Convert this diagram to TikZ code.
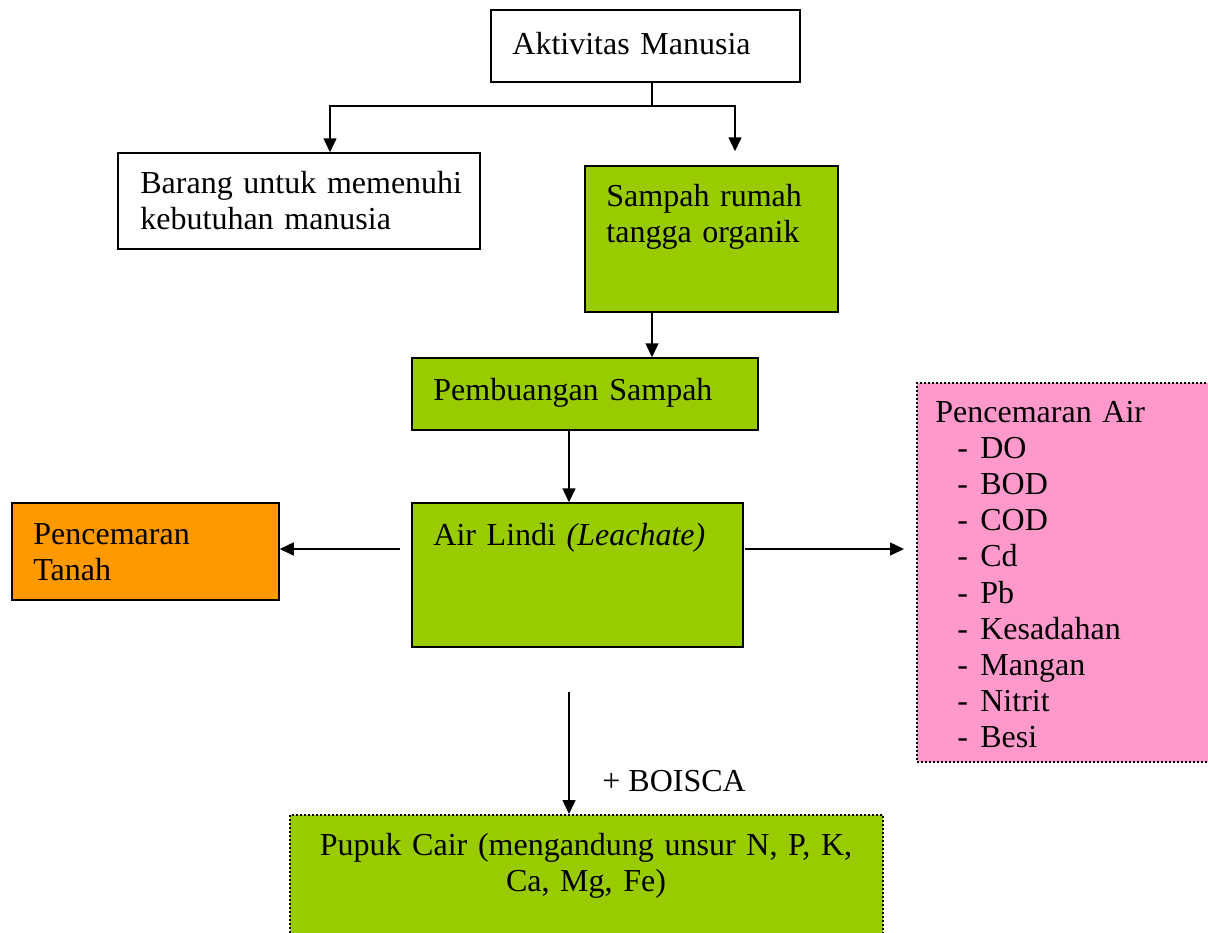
\documentclass[tikz,border=0pt]{standalone}
\usepackage{fontspec}
\setmainfont{Liberation Serif}
\usetikzlibrary{arrows.meta, fit, positioning}
\definecolor{leaf}{HTML}{99CC00}
\definecolor{rust}{HTML}{FF9900}
\definecolor{rose}{HTML}{FF99CC}
\tikzset{
    >={Triangle[length=7pt, width=6.5pt]}, % filled heads as in the original
    box/.style={draw, line width=0.75pt, inner sep=0pt}, % every frame
    dotted box/.style={box, line width=1pt, dash pattern=on 1pt off 1pt}, % dotted frames
    txt/.style={anchor=base west, inner sep=0pt, align=left, text width=270pt}, % text inside a frame
    link/.style={->, line width=0.75pt}, % connectors
}
\begin{document}
\begin{tikzpicture}[x=0.5pt, y=-0.5pt, font=\fontsize{16}{18.1}\selectfont]
    \useasboundingbox (0,0) rectangle (1208,932);

    % frames
    \node[box, fit={(491,10) (800,82)}] (akt) {};
    \node[box, fit={(118,153) (480,249)}] (barang) {};
    \node[box, fill=leaf, fit={(585,166) (838,312)}] (sampah) {};
    \node[box, fill=leaf, fit={(412,358) (758,430)}] (buang) {};
    \node[box, fill=leaf, fit={(412,503) (743,647)}] (lindi) {};
    \node[box, fill=rust, fit={(12,503) (279,600)}] (tanah) {};
    \node[dotted box, fill=rose, fit={(917,383) (1216,762)}] (air) {};
    \node[dotted box, fill=leaf, fit={(290,815) (883,945)}] (pupuk) {};

    % texts
    \node[txt] (akt-t) at (512,54) {Aktivitas Manusia};
    \node[txt] (barang-t) at (140,193) {Barang untuk memenuhi\\kebutuhan manusia};
    \node[txt] (sampah-t) at (606,206) {Sampah rumah\\tangga organik};
    \node[txt] (buang-t) at (433,400) {Pembuangan Sampah};
    \node[txt] (lindi-t) at (433,545) {Air Lindi \textit{(Leachate)}};
    \node[txt] (tanah-t) at (33,544) {Pencemaran\\Tanah};
    \node[txt] (air-t) at (935,422) {Pencemaran Air\\
        \hspace*{11pt}\makebox[11.5pt][l]{-}DO\\
        \hspace*{11pt}\makebox[11.5pt][l]{-}BOD\\
        \hspace*{11pt}\makebox[11.5pt][l]{-}COD\\
        \hspace*{11pt}\makebox[11.5pt][l]{-}Cd\\
        \hspace*{11pt}\makebox[11.5pt][l]{-}Pb\\
        \hspace*{11pt}\makebox[11.5pt][l]{-}Kesadahan\\
        \hspace*{11pt}\makebox[11.5pt][l]{-}Mangan\\
        \hspace*{11pt}\makebox[11.5pt][l]{-}Nitrit\\
        \hspace*{11pt}\makebox[11.5pt][l]{-}Besi};
    \node[txt, anchor=base, align=center] (pupuk-t) at (586,855) {Pupuk Cair (mengandung unsur N, P, K,\\Ca, Mg, Fe)};
    \node[anchor=base west, inner sep=0pt] (boisca) at (602,791) {+ BOISCA};

    % connectors
    \coordinate (split) at (652,106);
    \coordinate (fork-l) at (330,106);
    \coordinate (fork-r) at (735,106);
    \coordinate (mid-l) at (400,549);
    \coordinate (mid-r) at (745,549);
    \coordinate (drop) at (569,692);

    \draw[line width=0.75pt] (akt.south -| split) -- (split);
    \draw[link] (split) -- (fork-l) -- (barang.north -| fork-l);
    \draw[link, shorten >=7pt] (split) -- (fork-r) -- (sampah.north -| fork-r);
    \draw[link] (sampah.south -| split) -- (buang.north -| split);
    \draw[link] (buang.south -| drop) -- (lindi.north -| drop);
    \draw[link] (mid-l) -- (tanah.east |- mid-l);
    \draw[link, shorten >=6pt] (mid-r) -- (air.west |- mid-r);
    \draw[link] (drop) -- (pupuk.north -| drop);
\end{tikzpicture}
\end{document}
